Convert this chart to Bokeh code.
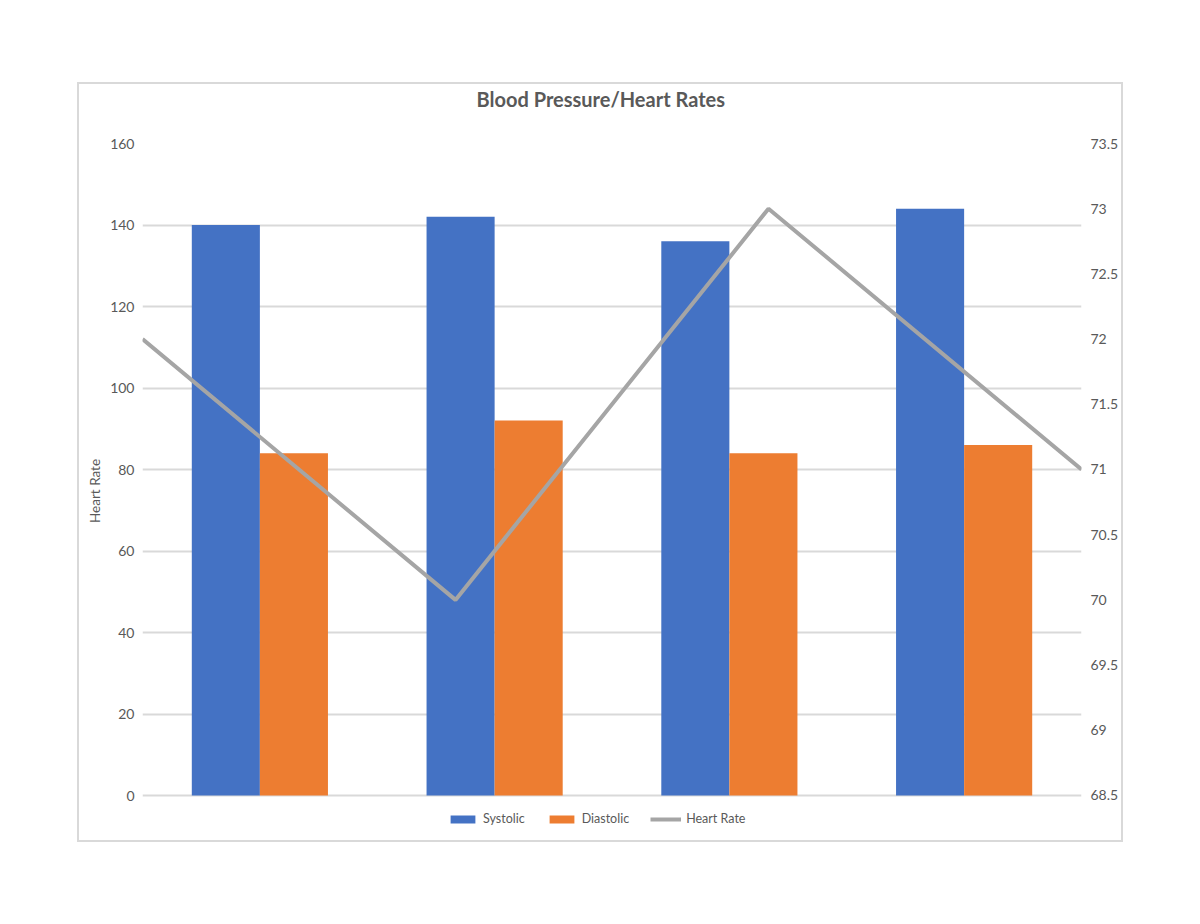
from bokeh.plotting import figure
from bokeh.models import (Range1d, LinearAxis, FixedTicker, NumeralTickFormatter,
                          Legend, LegendItem, ColumnDataSource, Title)
from bokeh.transform import dodge
from bokeh.embed import file_html
from bokeh.resources import INLINE

# data
categories = [0.5, 1.5, 2.5, 3.5]   # bar group centres (4 readings)
systolic = [140, 142, 136, 144]
diastolic = [84, 92, 84, 86]
heart_rate = [72, 70, 73, 71]
reading = [0, 1, 2, 3]               # line points on secondary x axis

left_ticks = [0, 20, 40, 60, 80, 100, 120, 140, 160]
grid_ticks = [0, 20, 40, 60, 80, 100, 120, 140]
right_ticks = [68.5, 69, 69.5, 70, 70.5, 71, 71.5, 72, 72.5, 73, 73.5]

FONT = "Lato"
GRAY_TEXT = "#595959"

# the frame runs down to the chart border so the legend fits inside it;
# ranges start a little below the first tick to leave room for it
p = figure(
    width=1042,
    height=756,
    x_range=Range1d(0, 4),
    y_range=Range1d(-10.55, 160),
    output_backend="svg",
    toolbar_location=None,
    min_border_left=63,
    min_border_right=38,
    min_border_top=59,
    min_border_bottom=2,
    styles={"outline": "2px solid #d9d9d9", "margin-left": "79px", "margin-top": "84px"},
)

p.extra_x_ranges = {"line": Range1d(0, 3)}
p.extra_y_ranges = {"hr": Range1d(68.17, 73.5)}

src = ColumnDataSource(dict(x=categories, sys=systolic, dia=diastolic))

bar_w = 0.29
r_sys = p.vbar(x=dodge("x", -bar_w / 2, range=p.x_range), top="sys", width=bar_w,
               source=src, fill_color="#4472C4", line_color=None)
r_dia = p.vbar(x=dodge("x", bar_w / 2, range=p.x_range), top="dia", width=bar_w,
               source=src, fill_color="#ED7D31", line_color=None)
r_hr = p.line(reading, heart_rate, x_range_name="line", y_range_name="hr",
              line_color="#A5A5A5", line_width=4)

# title: a blank spacer next to the frame pushes the real title up
p.add_layout(Title(text=" ", text_font_size="10px", standoff=20), "above")
p.add_layout(Title(text="Blood Pressure/Heart Rates", align="left", offset=334,
                   text_font=FONT, text_font_size="20px", text_font_style="bold",
                   text_color=GRAY_TEXT, standoff=0), "above")

# axes
p.xaxis.visible = False
p.yaxis.ticker = FixedTicker(ticks=left_ticks)
p.yaxis.axis_line_color = None
p.yaxis.major_tick_line_color = None
p.yaxis.minor_tick_line_color = None
p.yaxis.major_tick_out = 0
p.yaxis.minor_tick_out = 0
p.yaxis.major_label_text_font = FONT
p.yaxis.major_label_text_font_size = "14px"
p.yaxis.major_label_text_color = GRAY_TEXT
p.yaxis.major_label_standoff = 8
p.yaxis.axis_label = "Heart Rate"
p.yaxis.axis_label_text_font = FONT
p.yaxis.axis_label_text_font_size = "13.5px"
p.yaxis.axis_label_text_font_style = "normal"
p.yaxis.axis_label_text_color = GRAY_TEXT
p.yaxis.axis_label_standoff = 4

ax2 = LinearAxis(y_range_name="hr", ticker=FixedTicker(ticks=right_ticks),
                 formatter=NumeralTickFormatter(format="0.[0]"))
ax2.axis_line_color = None
ax2.major_tick_line_color = None
ax2.minor_tick_line_color = None
ax2.major_tick_out = 0
ax2.minor_tick_out = 0
ax2.major_label_text_font = FONT
ax2.major_label_text_font_size = "14px"
ax2.major_label_text_color = GRAY_TEXT
ax2.major_label_standoff = 9
p.add_layout(ax2, "right")

# grid
p.xgrid.visible = False
p.ygrid.ticker = FixedTicker(ticks=grid_ticks)
p.ygrid.grid_line_color = "#d9d9d9"
p.ygrid.grid_line_width = 2
p.outline_line_color = None

# legend, in the strip under the zero line
legend = Legend(
    items=[
        LegendItem(label="Systolic", renderers=[r_sys]),
        LegendItem(label="Diastolic", renderers=[r_dia]),
        LegendItem(label="Heart Rate", renderers=[r_hr]),
    ],
    orientation="horizontal",
    location=(305, 12),
    glyph_width=31,
    glyph_height=10,
    label_standoff=5,
    spacing=21,
    margin=0,
    padding=5,
    border_line_color=None,
    background_fill_alpha=0,
    label_text_font=FONT,
    label_text_font_size="12.5px",
    label_text_color=GRAY_TEXT,
)
p.add_layout(legend)

open("out.html", "w").write(file_html(p, INLINE))
